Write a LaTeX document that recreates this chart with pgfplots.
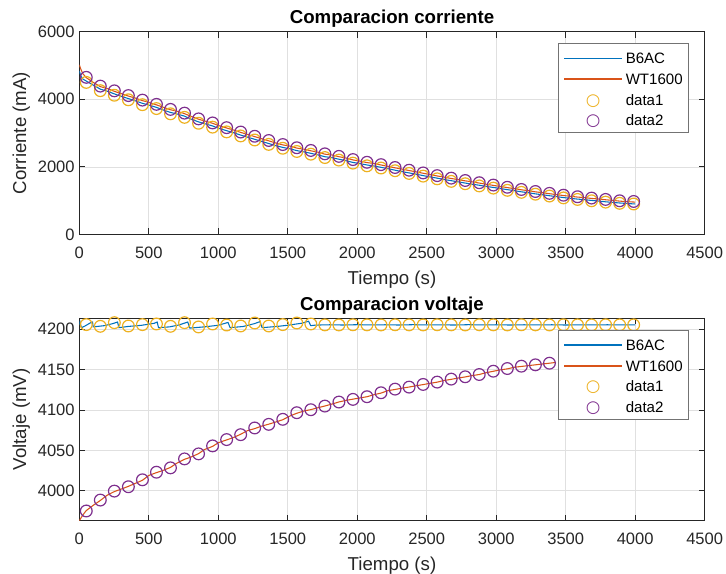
\documentclass[border=0pt]{standalone}
\usepackage{pgfplots}
\pgfplotsset{compat=1.18}
\usepackage{fontspec}
\setmainfont{Liberation Sans}
\newfontfamily\symfont{DejaVu Sans}
\definecolor{mblue}{rgb}{0,0.447,0.741}
\definecolor{mred}{rgb}{0.85,0.325,0.098}
\definecolor{myellow}{rgb}{0.929,0.694,0.125}
\definecolor{mpurple}{rgb}{0.494,0.184,0.556}
\definecolor{axgray}{rgb}{0.15,0.15,0.15}
\definecolor{gridgray}{rgb}{0.88,0.88,0.88}
\definecolor{leggray}{rgb}{0.45,0.45,0.45}
\newcommand{\lent}[2]{\textcolor{#1}{\rule[3.5pt]{43pt}{1.1pt}}\hspace{3pt}#2}
\newcommand{\cent}[2]{\makebox[43pt]{\textcolor{#1}{\fontsize{12.5}{12.5}\symfont ○}}\hspace{3pt}#2}
\pgfplotsset{
  mstyle/.style={
    scale only axis, width=469pt, height=152pt,
    xmin=0, xmax=4500, xtick={0,500,...,4500},
    axis line style={axgray, line width=0.6pt},
    tick style={axgray, line width=0.6pt},
    tick align=inside, tick pos=both, major tick length=4.5pt,
    grid=major, major grid style={gridgray, line width=0.5pt},
    scaled ticks=false,
    /pgf/number format/1000 sep={},
    /pgf/number format/assume math mode=true,
    tick label style={font=\fontsize{12.4}{14}\selectfont, text=axgray},
    xticklabel style={yshift=-6pt},
    label style={font=\fontsize{14}{16}\selectfont, text=axgray},
    xlabel style={yshift=-2pt},
    ylabel shift=-1pt,
    title style={font=\fontsize{14}{16}\selectfont\bfseries, yshift=-6.5pt},
    xlabel={Tiempo (s)},
    legend cell align=left,
    legend image code/.code={},
    legend style={font=\fontsize{11.3}{13}\selectfont, draw=leggray, line width=0.5pt,
      fill=white, anchor=north east, inner xsep=4.5pt, inner ysep=5pt,
      row sep=5.05pt, column sep=0pt,
      nodes={inner sep=0pt, text height=10.4pt, text depth=0pt}},
  },
}
\begin{document}
\begin{tikzpicture}
\path[use as bounding box] (0,0) rectangle (544.5pt,430.5pt);
% ---------------- top ----------------
\begin{axis}[mstyle, at={(59.5pt,254.7pt)}, anchor=south west,
  ymin=0, ymax=6000, ytick={0,2000,4000,6000},
  title={Comparacion corriente}, ylabel={Corriente (mA)},
  legend style={at={(rel axis cs:0.975,0.944)}}]
\addplot[color=mblue, line width=0.8pt, no marks] coordinates {(0,4840)(10,4700)(25,4600)(50,4540)(100,4420)(151,4300)(200,4240)(252,4160)(300,4090)(353,4020)(400,3960)(454,3880)(500,3830)(555,3760)(600,3690)(656,3610)(700,3570)(757,3500)(800,3420)(858,3330)(900,3280)(959,3210)(1000,3145)(1060,3070)(1110,3010)(1161,2940)(1210,2880)(1262,2815)(1310,2755)(1363,2690)(1410,2630)(1464,2575)(1520,2530)(1565,2480)(1620,2440)(1666,2400)(1720,2350)(1767,2300)(1820,2270)(1868,2225)(1920,2180)(1969,2130)(2020,2095)(2070,2055)(2120,2025)(2171,1985)(2220,1945)(2272,1900)(2320,1860)(2373,1820)(2420,1785)(2474,1740)(2520,1705)(2575,1665)(2620,1630)(2676,1590)(2720,1560)(2777,1520)(2820,1490)(2878,1455)(2920,1425)(2979,1390)(3020,1365)(3080,1325)(3130,1295)(3181,1260)(3230,1235)(3282,1200)(3330,1175)(3383,1145)(3430,1120)(3484,1090)(3530,1070)(3585,1045)(3630,1030)(3686,1005)(3730,990)(3787,965)(3830,950)(3888,930)(3940,915)(4000,900)};
\addlegendentry{\lent{mblue}{B6AC}}
\addplot[color=mred, line width=0.8pt, no marks] coordinates {(0,5020)(10,4900)(25,4760)(50,4640)(100,4500)(151,4375)(200,4320)(252,4235)(300,4170)(353,4095)(400,4040)(454,3960)(500,3910)(555,3835)(600,3770)(656,3690)(700,3650)(757,3575)(800,3500)(858,3410)(900,3360)(959,3290)(1000,3225)(1060,3150)(1110,3090)(1161,3020)(1210,2960)(1262,2895)(1310,2835)(1363,2770)(1410,2710)(1464,2650)(1520,2610)(1565,2555)(1620,2520)(1666,2475)(1720,2430)(1767,2375)(1820,2350)(1868,2300)(1920,2260)(1969,2205)(2020,2170)(2070,2125)(2120,2100)(2171,2055)(2220,2015)(2272,1970)(2320,1935)(2373,1890)(2420,1855)(2474,1810)(2520,1775)(2575,1730)(2620,1700)(2676,1655)(2720,1625)(2777,1585)(2820,1560)(2878,1520)(2920,1490)(2979,1450)(3020,1425)(3080,1385)(3130,1355)(3181,1320)(3230,1295)(3282,1260)(3330,1235)(3383,1205)(3430,1180)(3484,1150)(3530,1130)(3585,1105)(3630,1090)(3686,1065)(3730,1050)(3787,1025)(3830,1010)(3888,985)(3940,970)(4000,955)};
\addlegendentry{\lent{mred}{WT1600}}
\addplot[color=myellow, only marks, mark=o, mark size=4.4pt, mark options={line width=0.9pt, draw=myellow}] coordinates {(50,4500)(151,4255)(252,4120)(353,3985)(454,3840)(555,3725)(656,3570)(757,3465)(858,3290)(959,3175)(1060,3035)(1161,2915)(1262,2795)(1363,2665)(1464,2550)(1565,2455)(1666,2375)(1767,2275)(1868,2200)(1969,2110)(2070,2030)(2171,1965)(2272,1885)(2373,1805)(2474,1725)(2575,1645)(2676,1570)(2777,1500)(2878,1435)(2979,1370)(3080,1305)(3181,1245)(3282,1190)(3383,1135)(3484,1080)(3585,1035)(3686,995)(3787,955)(3888,920)(3989,900)};
\addlegendentry{\cent{myellow}{data1}}
\addplot[color=mpurple, only marks, mark=o, mark size=4.4pt, mark options={line width=0.9pt, draw=mpurple}] coordinates {(50,4650)(151,4390)(252,4250)(353,4110)(454,3975)(555,3850)(656,3700)(757,3590)(858,3420)(959,3300)(1060,3160)(1161,3030)(1262,2905)(1363,2780)(1464,2660)(1565,2565)(1666,2485)(1767,2385)(1868,2310)(1969,2215)(2070,2135)(2171,2065)(2272,1980)(2373,1900)(2474,1820)(2575,1740)(2676,1665)(2777,1595)(2878,1530)(2979,1460)(3080,1395)(3181,1330)(3282,1270)(3383,1215)(3484,1160)(3585,1115)(3686,1075)(3787,1035)(3888,995)(3989,975)};
\addlegendentry{\cent{mpurple}{data2}}
\end{axis}
% ---------------- bottom ----------------
\begin{axis}[mstyle, at={(59.5pt,40.0pt)}, anchor=south west,
  ymin=3963, ymax=4214, ytick={4000,4050,...,4200},
  title={Comparacion voltaje}, ylabel={Voltaje (mV)},
  legend style={at={(rel axis cs:0.975,0.942)}}]
\addplot[color=mblue, line width=0.8pt, no marks] coordinates {(0,4206)(5,4209)(15,4202)(40,4204)(80,4208)(95,4209)(100,4203)(180,4204.5)(240,4207)(275,4209)(285,4202)(350,4203.5)(450,4205)(540,4207.5)(560,4209)(570,4202)(650,4203)(720,4205.5)(780,4209)(795,4201.5)(900,4203)(1000,4205)(1070,4208.5)(1085,4202)(1180,4203.5)(1260,4207)(1300,4209.5)(1315,4202)(1420,4203.5)(1500,4205)(1600,4207.5)(1650,4210)(1665,4204.5)(1700,4205.2)(1800,4205.6)(1900,4205.3)(2000,4205.7)(2100,4205.4)(2200,4205.6)(2300,4205.3)(2400,4205.7)(2500,4205.4)(2600,4205.5)(2700,4205.3)(2800,4205.7)(2900,4205.4)(3000,4205.6)(3100,4205.3)(3200,4205.6)(3300,4205.4)(3400,4205.6)(3500,4205.3)(3600,4205.5)(3700,4205.4)(3800,4205.6)(3900,4205.4)(4000,4205.5)};
\addlegendentry{\lent{mblue}{B6AC}}
\addplot[color=mred, line width=0.8pt, no marks] coordinates {(0,3963)(25,3970)(50,3975.5)(100,3982)(151,3988)(200,3994.5)(252,3999)(300,4002)(353,4005.5)(400,4009)(454,4013)(500,4019)(555,4022.5)(600,4025)(656,4029)(700,4034)(757,4039)(800,4041.5)(858,4046)(900,4051)(959,4055)(1000,4059.5)(1060,4063)(1110,4066)(1161,4070)(1210,4074.5)(1262,4077)(1310,4080)(1363,4082.5)(1410,4085)(1464,4088)(1520,4093)(1565,4096)(1620,4099)(1666,4100.5)(1720,4103)(1767,4105)(1820,4107.5)(1868,4110)(1920,4112)(1969,4113.5)(2020,4115)(2070,4116.5)(2120,4119)(2171,4121)(2220,4124)(2272,4125.5)(2320,4127)(2373,4128.5)(2420,4130)(2474,4131.5)(2520,4133)(2575,4134.5)(2620,4136.5)(2676,4138)(2720,4139.5)(2777,4141)(2820,4142.5)(2878,4144)(2920,4146)(2979,4148)(3020,4149.5)(3080,4151)(3130,4153)(3181,4154)(3230,4155)(3282,4156)(3330,4157)(3383,4158)(3430,4159)};
\addlegendentry{\lent{mred}{WT1600}}
\addplot[color=myellow, only marks, mark=o, mark size=4.4pt, mark options={line width=0.9pt, draw=myellow}] coordinates {(50,4205.8)(151,4203.7)(252,4208.2)(353,4204.1)(454,4205.8)(555,4206.6)(656,4203.7)(757,4208.2)(858,4202.9)(959,4206.6)(1060,4205.3)(1161,4204.1)(1262,4207.8)(1363,4204.1)(1464,4205.8)(1565,4207.8)(1666,4206.6)(1767,4205.5)(1868,4205.4)(1969,4205.6)(2070,4205.5)(2171,4205.4)(2272,4205.6)(2373,4205.5)(2474,4205.4)(2575,4205.6)(2676,4205.5)(2777,4205.4)(2878,4205.6)(2979,4205.5)(3080,4205.4)(3181,4205.6)(3282,4205.5)(3383,4205.4)(3484,4205.6)(3585,4205.5)(3686,4205.4)(3787,4205.6)(3888,4205.5)(3989,4205.5)};
\addlegendentry{\cent{myellow}{data1}}
\addplot[color=mpurple, only marks, mark=o, mark size=4.4pt, mark options={line width=0.9pt, draw=mpurple}] coordinates {(50,3975)(151,3988.5)(252,3999.6)(353,4005)(454,4013.6)(555,4023)(656,4028.4)(757,4039.5)(858,4045.7)(959,4055.6)(1060,4063.4)(1161,4069.5)(1262,4077.8)(1363,4082.3)(1464,4088.5)(1565,4096.7)(1666,4100.4)(1767,4104.9)(1868,4109.9)(1969,4113.2)(2070,4116.5)(2171,4121.4)(2272,4125.9)(2373,4128.4)(2474,4131.7)(2575,4134.6)(2676,4138.3)(2777,4141.2)(2878,4144)(2979,4148.1)(3080,4151.4)(3181,4154.3)(3282,4156)(3383,4158)};
\addlegendentry{\cent{mpurple}{data2}}
\end{axis}
\end{tikzpicture}
\end{document}
